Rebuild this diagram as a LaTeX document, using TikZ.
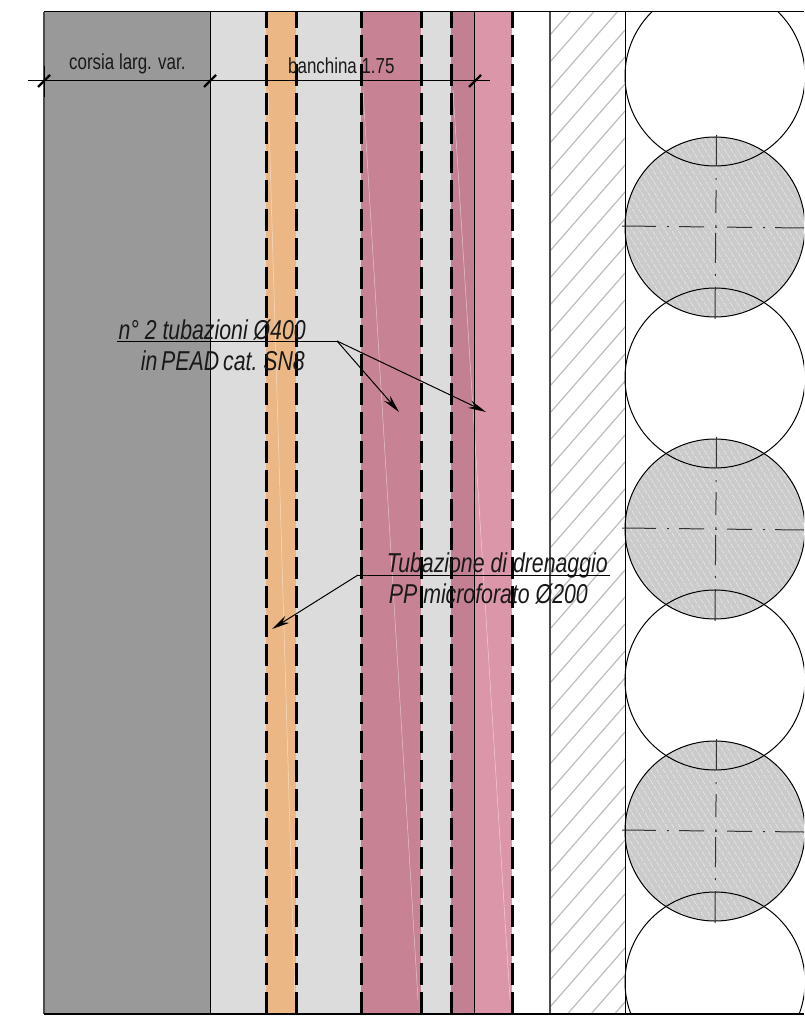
\documentclass[tikz,border=0pt]{standalone}
\usepackage{fontspec}
\setmainfont[FakeStretch=0.78]{Liberation Sans}
\usetikzlibrary{arrows.meta}
\definecolor{road}{HTML}{999999}
\definecolor{shoulder}{HTML}{DCDCDC}
\definecolor{orangeband}{HTML}{EAB785}
\definecolor{roseband}{HTML}{C78293}
\definecolor{rosedark}{HTML}{C38093}
\definecolor{pinkband}{HTML}{DC96A9}
\definecolor{pilegray}{HTML}{CBCBCB}
\definecolor{hatchgray}{HTML}{BDBDBD}
\tikzset{
  x=1pt,y=-1pt,
  bandedge/.style={line width=3pt,black,dash pattern=on 22pt off 7pt,dash phase=6pt},
  sliver/.style={white,line width=0.5pt,opacity=0.55},
  outline/.style={black,line width=1pt},
  leader/.style={black,line width=1pt},
  pointer/.style={black,line width=1pt,-{Stealth[length=18pt,width=8pt]}},
  tick/.style={black,line width=2.2pt},
  centreH/.style={black!80,line width=1pt,dash pattern=on 34pt off 11pt on 2pt off 10pt on 25pt off 11pt on 2pt off 10pt on 25pt off 11pt on 2pt off 10pt on 40pt},
  centreV/.style={black!80,line width=1pt,dash pattern=on 31pt off 12pt on 2pt off 10pt on 23pt off 12pt on 3pt off 5pt on 30pt off 11pt on 2pt off 11pt on 32pt},
  label/.style={inner sep=0pt,font=\fontsize{21.7}{21.7}\selectfont,text=black!90},
  note/.style={inner sep=0pt,font=\fontsize{27.3}{27.3}\selectfont\itshape,text=black!90},
}
\begin{document}
\begin{tikzpicture}
\useasboundingbox (0,0) rectangle (804,1024);
\fill[white] (0,0) rectangle (804,1024);
% bands
\fill[road] (44,12) rectangle (210,1014);
\fill[shoulder] (210,12) rectangle (512,1014);
\fill[orangeband] (266,12) rectangle (296,1014);
\fill[roseband] (361,12) rectangle (421,1014);
\fill[rosedark] (451,12) rectangle (474,1014);
\fill[pinkband] (474,12) rectangle (512,1014);
\fill[white] (512,12) rectangle (550,1014);
% slivers
\draw[sliver] (268,90) -- (295,1000);
\draw[sliver] (363,90) -- (418,1000);
\draw[sliver] (453,90) -- (510,1000);
% hatch
\begin{scope}
\clip (550,12) rectangle (625,1014);
\foreach \k in {0,...,40}
  \draw[hatchgray,line width=1.2pt] (550,{35+27*\k}) -- (625,{35+27*\k-86});
\end{scope}
% gray piles
\foreach \cy in {227,529,831}{
  \begin{scope}
  \clip (600,12) rectangle (804,1014);
  \fill[pilegray] (715,\cy) circle[radius=90];
  \clip (715,\cy) circle[radius=90];
  \foreach \k in {-30,...,30}
    \draw[white,line width=0.35pt,opacity=0.8,dash pattern=on 5pt off 1.5pt]
      ({715+6.5*\k-60},{\cy-95}) -- ({715+6.5*\k+60},{\cy+95});
  \end{scope}
}
% pile outlines
\begin{scope}
\clip (600,12) rectangle (804,1014);
\foreach \cy in {76,227,378,529,680,831,982}
  \draw[outline] (715,\cy) circle[radius=90];
\foreach \cy in {227,529,831}{
  \draw[centreH] (622,{\cy-1}) -- (804,{\cy+1});
  \draw[centreV] (716.5,{\cy-92}) -- (715,{\cy+92});
}
\end{scope}
% frame lines
\draw[black!70,line width=1.4pt] (44,12) -- (44,1014);
\draw[black,line width=1pt] (44,66) -- (44,97);
\draw[black,line width=1pt] (210,12) -- (210,1014);
\draw[black,line width=0.8pt] (474,12) -- (474,1014);
\draw[black!70,line width=1.2pt] (550,12) -- (550,1014);
\draw[black,line width=1pt] (625,12) -- (625,1014);
\draw[black,line width=1pt] (44,12) -- (804,12);
\draw[black,line width=1.4pt] (44,1014) -- (804,1014);
% band edges
\foreach \x in {266,296,361,421,451,512}
  \draw[bandedge] (\x,12) -- (\x,1014);
% dimension line
\coordinate (dimL) at (28,81);
\coordinate (dimR) at (490,81);
\coordinate (t1) at (44,81);
\coordinate (t2) at (210,81);
\coordinate (t3) at (475,81);
\draw[black,line width=1pt] (dimL) -- (dimR);
\foreach \t in {t1,t2,t3}
  \draw[tick] ([xshift=-6pt,yshift=-6pt]\t) -- ([xshift=6pt,yshift=6pt]\t);
% labels
\node[label,anchor=base west] (corsia) at (69,70) {corsia larg. var.};
\node[label,anchor=base west] (banchina) at (288,74) {banchina 1.75};
\node[note,anchor=base east] (tubA) at (306,339) {n° 2 tubazioni Ø400};
\node[note,anchor=base east] (tubB) at (305,370) {in\hspace{-2pt} PEAD\hspace{-2pt} cat.\hspace{-2pt} SN8};
\node[note,anchor=base east] (drenA) at (608,572) {Tubazione di drenaggio};
\node[note,anchor=base east] (drenB) at (588,603) {PP microforato Ø200};
% leaders
\coordinate (l1a) at (117,341);
\coordinate (l1b) at (337,341);
\coordinate (p1) at (399,412);
\coordinate (p2) at (486,412);
\draw[leader] (l1a) -- (l1b);
\draw[pointer] (l1b) -- (p1);
\draw[pointer] (l1b) -- (p2);
\coordinate (l2a) at (610,575);
\coordinate (l2b) at (358,575);
\coordinate (p3) at (272,629);
\draw[leader] (l2a) -- (l2b);
\draw[pointer] (l2b) -- (p3);
\end{tikzpicture}
\end{document}
